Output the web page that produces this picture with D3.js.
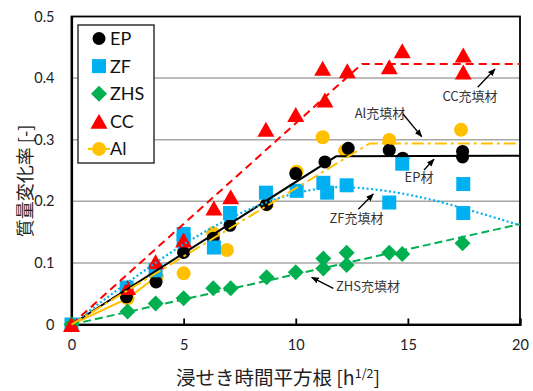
<!DOCTYPE html>
<html><head><meta charset="utf-8">
<script src="https://cdn.jsdelivr.net/npm/d3@7"></script>
<style>body{margin:0;background:#fff}svg{display:block}</style>
</head><body>
<script>
// ---- data ----
const xTicks = [0, 5, 10, 15, 20];
const yTicks = [0, 0.1, 0.2, 0.3, 0.4, 0.5];
const yTickLabels = ["0", "0.1", "0.2", "0.3", "0.4", "0.5"];

const epX = [0, 2.45, 3.77, 5.0, 6.32, 7.07, 8.7, 10.0, 11.3, 12.34, 14.17, 14.77, 17.44, 17.44];
const epY = [0, 0.045, 0.069, 0.117, 0.14, 0.161, 0.195, 0.245, 0.264, 0.286, 0.283, 0.27, 0.281, 0.272];

const zfX = [0, 2.46, 3.75, 5.0, 5.0, 6.35, 7.07, 8.67, 10.04, 11.23, 11.4, 12.27, 14.17, 14.75, 17.47, 17.47];
const zfY = [0, 0.060, 0.088, 0.147, 0.137, 0.125, 0.181, 0.214, 0.217, 0.230, 0.214, 0.226, 0.198, 0.261, 0.228, 0.181];

const zhsX = [0, 2.5, 3.75, 5.0, 6.32, 7.1, 8.7, 10.0, 11.23, 11.23, 12.27, 12.27, 14.17, 14.75, 17.44];
const zhsY = [0, 0.021, 0.034, 0.0425, 0.0588, 0.0588, 0.0766, 0.0847, 0.107, 0.091, 0.1166, 0.0966, 0.1166, 0.1144, 0.132];

const ccX = [0, 2.5, 3.75, 5.0, 6.35, 7.1, 8.67, 10.0, 11.2, 11.3, 12.3, 14.17, 14.75, 17.47, 17.47];
const ccY = [0, 0.060, 0.102, 0.137, 0.189, 0.2075, 0.317, 0.341, 0.416, 0.3645, 0.412, 0.4185, 0.4445, 0.4375, 0.41];

const alX = [0, 2.5, 3.8, 5.0, 6.32, 6.93, 8.7, 10.04, 11.2, 12.2, 14.17, 17.37];
const alY = [0, 0.0425, 0.078, 0.083, 0.148, 0.121, 0.195, 0.248, 0.304, 0.282, 0.2995, 0.316];

// trend lines
const epFitX = [0, 11.8, 20];   const epFitY = [0, 0.273, 0.274];
const ccFitX = [0, 12.95, 20];  const ccFitY = [0, 0.423, 0.423];
const alFitX = [0, 13.3, 20];   const alFitY = [0, 0.294, 0.294];
const zhsFitX = [0, 20];        const zhsFitY = [0, 0.163];
const zfFitX = [0, 2.5, 5, 7.5, 10, 12, 14, 16, 18, 20];
const zfFitY = [0, 0.068, 0.13, 0.18, 0.213, 0.223, 0.217, 0.203, 0.183, 0.161];

const legendNames = ["EP", "ZF", "ZHS", "CC", "Al"];

// ---- drawing ----
const W = 533, H = 391;
const svg = d3.select("body").append("svg").attr("width", W).attr("height", H);
const x = d3.scaleLinear().domain([0, 20]).range([71.5, 520]);
const y = d3.scaleLinear().domain([0, 0.5]).range([324.5, 16.5]);

const latin = "Lato, 'Open Sans', sans-serif";
const cjk = "'Noto Sans CJK JP', sans-serif";

// gridlines
svg.append("g").selectAll("line").data(yTicks.slice(1, -1)).join("line")
  .attr("x1", x(0)).attr("x2", x(20)).attr("y1", d => y(d)).attr("y2", d => y(d))
  .attr("stroke", "#a6a6a6").attr("stroke-width", 1.5);

// frame
svg.append("rect").attr("x", x(0)).attr("y", y(0.5)).attr("width", x(20) - x(0)).attr("height", y(0) - y(0.5))
  .attr("fill", "none").attr("stroke", "#000").attr("stroke-width", 1.8);

// x axis with inward ticks
const xAxis = d3.axisBottom(x).tickValues(xTicks).tickSize(-6).tickFormat(d3.format("d")).tickPadding(18);
const gx = svg.append("g").attr("transform", `translate(0,${y(0)})`).call(xAxis);
gx.select(".domain").attr("stroke-width", 2.2);
gx.selectAll(".tick line").attr("stroke-width", 1.8);
gx.selectAll("text").attr("font-family", latin).attr("font-size", 14.5).attr("fill", "#222").attr("dy", "0.5em");

// y axis
const yAxis = d3.axisLeft(y).tickValues(yTicks).tickSize(0).tickPadding(17).tickFormat((d, i) => yTickLabels[i]);
const gy = svg.append("g").attr("transform", `translate(${x(0)},0)`).call(yAxis);
gy.select(".domain").attr("stroke-width", 2.2);
gy.selectAll("text").attr("font-family", latin).attr("font-size", 14.5).attr("fill", "#222");

// axis titles
svg.append("text").attr("x", 278).attr("y", 385).attr("text-anchor", "middle")
  .attr("font-family", cjk).attr("font-size", 19.5).attr("fill", "#222")
  .call(t => {
    t.append("tspan").text("浸せき時間平方根 [h");
    t.append("tspan").attr("font-size", 12.5).attr("dy", -7).text("1/2");
    t.append("tspan").attr("dy", 7).text("]");
  });
svg.append("text").attr("transform", "translate(32,181) rotate(-90)").attr("text-anchor", "middle")
  .attr("font-family", cjk).attr("font-size", 18).attr("fill", "#222").text("質量変化率 [-]");

const zip = (xs, ys) => xs.map((v, i) => [v, ys[i]]);
const lineGen = d3.line().x(d => x(d[0])).y(d => y(d[1]));

// markers
const layer = svg.append("g");
// Al (bottom)
layer.append("path").datum(zip(alX, alY).slice(0, 3)).attr("d", lineGen)
  .attr("fill", "none").attr("stroke", "#FFC000").attr("stroke-width", 2);
layer.append("g").selectAll("circle").data(zip(alX, alY)).join("circle")
  .attr("cx", d => x(d[0])).attr("cy", d => y(d[1])).attr("r", 7).attr("fill", "#FFC000");
// EP
layer.append("g").selectAll("circle").data(zip(epX, epY)).join("circle")
  .attr("cx", d => x(d[0])).attr("cy", d => y(d[1])).attr("r", 6.5).attr("fill", "#000");
// ZF
layer.append("g").selectAll("rect").data(zip(zfX, zfY)).join("rect")
  .attr("x", d => x(d[0]) - 7).attr("y", d => y(d[1]) - 7).attr("width", 14).attr("height", 14).attr("fill", "#00B0F0");
// ZHS
layer.append("g").selectAll("path").data(zip(zhsX, zhsY)).join("path")
  .attr("d", d => { const cx = x(d[0]), cy = y(d[1]), r = 8; return `M${cx},${cy - r}L${cx + r},${cy}L${cx},${cy + r}L${cx - r},${cy}Z`; })
  .attr("fill", "#00B050");
// CC
layer.append("g").selectAll("path").data(zip(ccX, ccY)).join("path")
  .attr("d", d => { const cx = x(d[0]), cy = y(d[1]); return `M${cx},${cy - 7.5}L${cx + 8.5},${cy + 7.5}L${cx - 8.5},${cy + 7.5}Z`; })
  .attr("fill", "#FF0000");

// trend lines
const fits = [
  { xs: epFitX, ys: epFitY, c: "#000", dash: null, w: 2 },
  { xs: zfFitX, ys: zfFitY, c: "#00B0F0", dash: "2,2.5", w: 2.2, curve: d3.curveMonotoneX },
  { xs: zhsFitX, ys: zhsFitY, c: "#00B050", dash: "8,4", w: 2 },
  { xs: ccFitX, ys: ccFitY, c: "#FF0000", dash: "8,5", w: 2 },
  { xs: alFitX, ys: alFitY, c: "#FFC000", dash: "12,4,3,4", w: 2 }
];
fits.forEach(f => {
  const g = d3.line().x(d => x(d[0])).y(d => y(d[1])).curve(f.curve || d3.curveLinear);
  svg.append("path").datum(zip(f.xs, f.ys)).attr("d", g).attr("fill", "none")
    .attr("stroke", f.c).attr("stroke-width", f.w).attr("stroke-dasharray", f.dash);
});

// annotations
const defs = svg.append("defs");
defs.append("marker").attr("id", "ah").attr("viewBox", "0 0 10 10").attr("refX", 9).attr("refY", 5)
  .attr("markerWidth", 6).attr("markerHeight", 6).attr("orient", "auto")
  .append("path").attr("d", "M0,1L10,5L0,9Z").attr("fill", "#000");
const notes = [
  { t: "CC充填材", tx: 470, ty: 101, x1: 477.7, y1: 87.3, x2: 495, y2: 69 },
  { t: "Al充填材", tx: 380, ty: 118, x1: 403, y1: 114, x2: 421.7, y2: 136.7 },
  { t: "EP材", tx: 419, ty: 182, x1: 424, y1: 170, x2: 434, y2: 159.3 },
  { t: "ZF充填材", tx: 356.5, ty: 223, x1: 358.3, y1: 209.3, x2: 373.3, y2: 194 },
  { t: "ZHS充填材", tx: 368, ty: 291, x1: 333.3, y1: 288.3, x2: 311.7, y2: 277.3 }
];
notes.forEach(n => {
  svg.append("text").attr("x", n.tx).attr("y", n.ty).attr("text-anchor", "middle")
    .attr("font-family", cjk).attr("font-size", 13).attr("fill", "#333").text(n.t);
  svg.append("line").attr("x1", n.x1).attr("y1", n.y1).attr("x2", n.x2).attr("y2", n.y2)
    .attr("stroke", "#000").attr("stroke-width", 1.3).attr("marker-end", "url(#ah)");
});

// legend
const lg = svg.append("g");
lg.append("rect").attr("x", 78).attr("y", 25).attr("width", 76).attr("height", 138)
  .attr("fill", "#fff").attr("stroke", "#333").attr("stroke-width", 1.5);
const ly = i => 38.5 + i * 27.6;
const mx = 99;
lg.append("circle").attr("cx", mx).attr("cy", ly(0)).attr("r", 6.5).attr("fill", "#000");
lg.append("rect").attr("x", mx - 7).attr("y", ly(1) - 7).attr("width", 14).attr("height", 14).attr("fill", "#00B0F0");
lg.append("path").attr("d", `M${mx},${ly(2) - 8}L${mx + 8},${ly(2)}L${mx},${ly(2) + 8}L${mx - 8},${ly(2)}Z`).attr("fill", "#00B050");
lg.append("path").attr("d", `M${mx},${ly(3) - 7.5}L${mx + 8.5},${ly(3) + 7.5}L${mx - 8.5},${ly(3) + 7.5}Z`).attr("fill", "#FF0000");
lg.append("line").attr("x1", mx - 11).attr("x2", mx + 11).attr("y1", ly(4)).attr("y2", ly(4)).attr("stroke", "#FFC000").attr("stroke-width", 2);
lg.append("circle").attr("cx", mx).attr("cy", ly(4)).attr("r", 7).attr("fill", "#FFC000");
lg.selectAll("text.lt").data(legendNames).join("text").attr("class", "lt")
  .attr("x", 110).attr("y", (d, i) => ly(i)).attr("dy", "0.36em")
  .attr("font-family", latin).attr("font-size", 18).attr("fill", "#111").text(d => d);
</script>
</body></html>
